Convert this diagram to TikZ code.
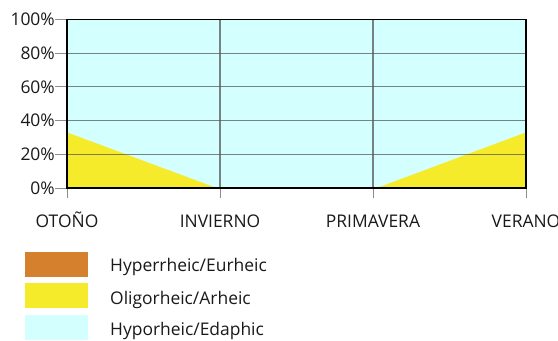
\documentclass[tikz,border=0pt]{standalone}
\usepackage{fontspec}
\setmainfont{Open Sans}
\definecolor{hyperrheic}{RGB}{213,128,45}
\definecolor{oligorheic}{RGB}{245,235,42}
\definecolor{hyporheic}{RGB}{212,255,255}
\tikzset{
    every node/.style={inner sep=0pt, text=black!90,
    	font=\fontsize{17.5}{20}\selectfont}
}
\tikzset{
    gridline/.style={draw=black!65, opacity=.75, line width=1.2pt},
    tickline/.style={draw=black!45, line width=1pt},
    legendbox/.style={rectangle, minimum width=63bp, minimum height=25bp}
}
\pgfdeclarelayer{background}
\pgfsetlayers{background,main}

\begin{document}
\begin{tikzpicture}[x=1bp,y=1bp]
	\useasboundingbox (0,0) rectangle (558,340);

	\begin{scope}[shift={(67,152)}, x=153bp, y=1.685bp]
		\coordinate (o) at (0,0);
		\coordinate (e) at (3,100);

		\begin{pgfonlayer}{background}
			\fill[hyporheic] (o) rectangle (e);
			\fill[oligorheic] (0,0) -- (0,33) -- (0.978,0) -- cycle;
			\fill[oligorheic] (2.024,0) -- (3,33) -- (3,0) -- cycle;
		\end{pgfonlayer}

		\draw[gridline] (0,20) -- (3,20) (0,40) -- (3,40) (0,60) -- (3,60)
			(0,80) -- (3,80);
		\draw[gridline] (1,0) -- (1,100) (2,0) -- (2,100);

		\node[anchor=east] (p0) at ([xshift=-12bp]0,0) {0\%};
		\node[anchor=east] (p20) at ([xshift=-12bp]0,20) {20\%};
		\node[anchor=east] (p40) at ([xshift=-12bp]0,40) {40\%};
		\node[anchor=east] (p60) at ([xshift=-12bp]0,60) {60\%};
		\node[anchor=east] (p80) at ([xshift=-12bp]0,80) {80\%};
		\node[anchor=east] (p100) at ([xshift=-12bp]0,100) {100\%};
		\draw[tickline] (p0.east) -- (0,0); \draw[tickline] (p20.east) -- (0,20);
		\draw[tickline] (p40.east) -- (0,40); \draw[tickline] (p60.east) -- (0,60);
		\draw[tickline] (p80.east) -- (0,80);
		\draw[tickline] (p100.east) -- (0,100);

		\coordinate (t0) at ([yshift=-10bp]0,0);
		\coordinate (t1) at ([yshift=-10bp]1,0);
		\coordinate (t2) at ([yshift=-10bp]2,0);
		\coordinate (t3) at ([yshift=-10bp]3,0);
		\draw[tickline] (0,0) -- (t0); \draw[tickline] (1,0) -- (t1);
		\draw[tickline] (2,0) -- (t2); \draw[tickline] (3,0) -- (t3);

		\node[anchor=base] (otono) at ([yshift=-39bp]0,0) {OTOÑO};
		\node[anchor=base] (invierno) at ([yshift=-39bp]1,0) {INVIERNO};
		\node[anchor=base] (primavera) at ([yshift=-39bp]2,0) {PRIMAVERA};
		\node[anchor=base] (verano) at ([yshift=-39bp]3,0) {VERANO};

		\draw[black, line width=1.6pt] (o) rectangle (e);
	\end{scope}

	\node[legendbox, fill=hyperrheic] (b1) at (56.5,75.5) {};
	\node[legendbox, fill=oligorheic] (b2) at (56.5,44.5) {};
	\node[legendbox, fill=hyporheic] (b3) at (56.5,12.5) {};
	\node[anchor=base west] (l1) at (110,68.3) {Hyperrheic/Eurheic};
	\node[anchor=base west] (l2) at (110,36) {Oligorheic/Arheic};
	\node[anchor=base west] (l3) at (110,5) {Hyporheic/Edaphic};
\end{tikzpicture}
\end{document}
